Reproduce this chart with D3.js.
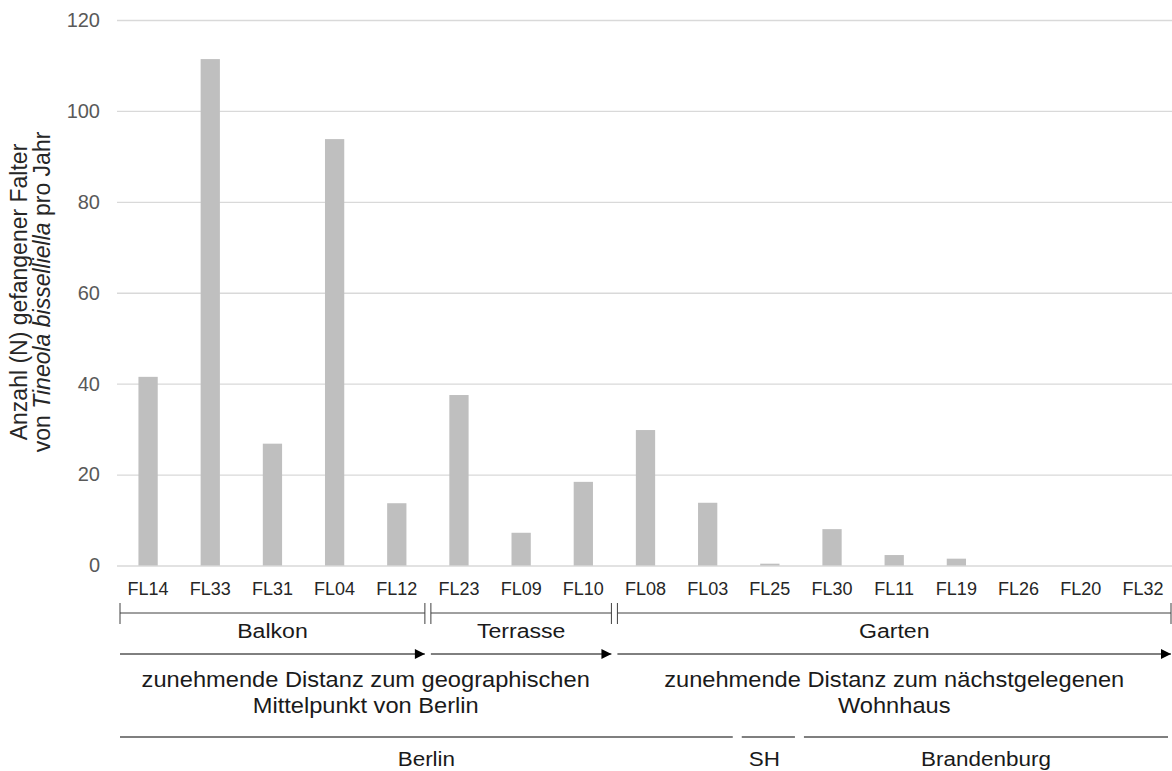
<!DOCTYPE html>
<html><head><meta charset="utf-8">
<script src="https://cdn.jsdelivr.net/npm/d3@7"></script>
<style>
html,body{margin:0;padding:0;background:#fff;}
svg text{font-family:"Liberation Sans",Arial,sans-serif;}
</style></head>
<body>
<svg id="chart" width="1172" height="771"></svg>
<script>
const sites = ["FL14","FL33","FL31","FL04","FL12","FL23","FL09","FL10","FL08","FL03","FL25","FL30","FL11","FL19","FL26","FL20","FL32"];
const counts = [41.5,111.4,26.8,93.8,13.7,37.5,7.2,18.4,29.8,13.8,0.4,8.0,2.3,1.5,0,0,0];
const yTicks = [0,20,40,60,80,100,120];
const habitats = [
  {label:"Balkon", first:"FL14", last:"FL12"},
  {label:"Terrasse", first:"FL23", last:"FL10"},
  {label:"Garten", first:"FL08", last:"FL32"}
];
const gradients = [
  {lines:["zunehmende Distanz zum geographischen","Mittelpunkt von Berlin"], first:"FL14", last:"FL10"},
  {lines:["zunehmende Distanz zum nächstgelegenen","Wohnhaus"], first:"FL08", last:"FL32"}
];
const regions = [
  {label:"Berlin", first:"FL14", last:"FL03"},
  {label:"SH", first:"FL25", last:"FL25"},
  {label:"Brandenburg", first:"FL30", last:"FL32"}
];
const yTitle1 = "Anzahl (N) gefangener Falter";

const svg = d3.select("#chart");
const x = d3.scaleBand().domain(sites).range([117, 1174]).paddingInner(0.69).paddingOuter(0.345);
const y = d3.scaleLinear().domain([0,120]).range([565.5, 20]);
const step = x.step();
const cx = s => x(s) + x.bandwidth()/2;
const leftEdge = s => cx(s) - step/2;
const rightEdge = s => cx(s) + step/2;

function label(g, tx, ty, txt, size, sx) {
  return g.append("text").attr("transform", `translate(${tx},${ty}) scale(${sx},1)`)
    .attr("text-anchor","middle").attr("fill","#1a1a1a").attr("font-size",size).text(txt);
}

// gridlines + y tick labels via axis
const yAxis = d3.axisLeft(y).tickValues(yTicks).tickSize(-(1172-117)).tickPadding(17);
const gy = svg.append("g").attr("transform","translate(117,0)").call(yAxis);
gy.select(".domain").remove();
gy.selectAll(".tick line").attr("stroke","#d9d9d9").attr("stroke-width",1.3);
gy.selectAll(".tick text").attr("fill","#595959").attr("font-size",20);

// bars
svg.append("g").selectAll("rect").data(sites).join("rect")
  .attr("x", d => x(d)).attr("width", x.bandwidth())
  .attr("y", (d,i) => y(counts[i])).attr("height", (d,i) => y(0) - y(counts[i]))
  .attr("fill","#bfbfbf");

// x axis labels
const xAxis = d3.axisBottom(x).tickSize(0).tickPadding(17);
const gx = svg.append("g").attr("transform", `translate(0,${y(0)})`).call(xAxis);
gx.select(".domain").remove();
gx.selectAll(".tick text").attr("fill","#262626").attr("font-size",18);

// y title
const yt = svg.append("text").attr("transform","translate(27,292) rotate(-90)")
  .attr("text-anchor","middle").attr("fill","#262626").attr("font-size",23);
yt.append("tspan").attr("x",0).attr("dy",0).text(yTitle1);
const t2 = yt.append("tspan").attr("x",0).attr("dy",23);
t2.append("tspan").text("von ");
t2.append("tspan").attr("font-style","italic").text("Tineola bisselliella");
t2.append("tspan").text(" pro Jahr");

// habitat brackets
const hb = svg.append("g");
habitats.forEach(h => {
  const x0 = leftEdge(h.first)+3, x1 = rightEdge(h.last)-3;
  hb.append("line").attr("x1",x0).attr("x2",x1).attr("y1",613).attr("y2",613).attr("stroke","#404040").attr("stroke-width",1);
  [x0,x1].forEach(xx => hb.append("line").attr("x1",xx).attr("x2",xx).attr("y1",603).attr("y2",624).attr("stroke","#404040").attr("stroke-width",1));
  label(hb, (x0+x1)/2, 638, h.label, 21, 1.1);
});

// arrows
const defs = svg.append("defs");
defs.append("marker").attr("id","arr").attr("viewBox","0 0 10 10").attr("refX",10).attr("refY",5)
  .attr("markerWidth",11).attr("markerHeight",10).attr("markerUnits","userSpaceOnUse").attr("orient","auto")
  .append("path").attr("d","M0,0L10,5L0,10Z").attr("fill","#000");
habitats.forEach(h => {
  const x0 = leftEdge(h.first)+3, x1 = rightEdge(h.last)-3;
  svg.append("line").attr("x1",x0).attr("x2",x1).attr("y1",654).attr("y2",654)
    .attr("stroke","#000").attr("stroke-width",1).attr("marker-end","url(#arr)");
});
const gt = svg.append("g");
gradients.forEach(g => {
  const x0 = leftEdge(g.first)+3, x1 = rightEdge(g.last)-3;
  g.lines.forEach((ln,i) => label(gt, (x0+x1)/2, 687+i*26, ln, 21.5, 1.1));
});

// regions
const rg = svg.append("g");
regions.forEach(r => {
  const x0 = leftEdge(r.first)+3, x1 = rightEdge(r.last)-6;
  rg.append("line").attr("x1",x0).attr("x2",x1).attr("y1",737).attr("y2",737).attr("stroke","#7f7f7f").attr("stroke-width",1.8);
  label(rg, (x0+x1)/2 - (r.label==="SH"?4:0), 766, r.label, 21, 1.07);
});
</script>
</body></html>
